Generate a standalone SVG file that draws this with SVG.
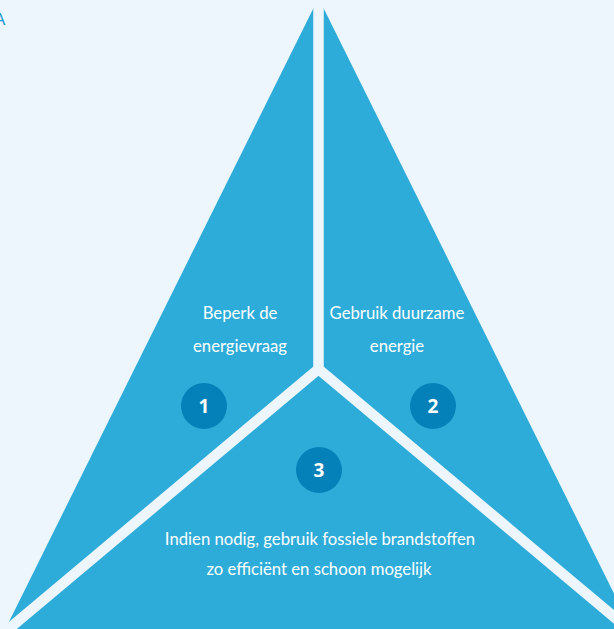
<svg xmlns="http://www.w3.org/2000/svg" width="614" height="629" viewBox="0 0 614 629">
<style>
.lbl{font-family:Lato,"Open Sans","Liberation Sans",sans-serif;font-size:16.7px;fill:#ffffff;text-anchor:middle}
.num{font-family:"Open Sans","Liberation Sans",sans-serif;font-size:19px;font-weight:bold;fill:#ffffff;text-anchor:middle}
.badge{fill:#0481b8}
.gap{stroke:#eef6fd;stroke-width:10.5;fill:none;stroke-linejoin:miter}
</style>
<rect width="614" height="629" fill="#eef6fd"/>
<text x="-6" y="25" font-family="Liberation Sans,sans-serif" font-size="17" fill="#1a9bd3">A</text>
<g id="triangle">
<polygon points="318.5,-2 -10,660 647,660" fill="#2eacd9"/>
</g>
<g id="connectors">
<path class="gap" d="M318.5,-12 V369"/>
<path class="gap" d="M-20,653 L318.5,369 L657,653"/>
</g>
<g id="node1">
<text class="lbl" x="240" y="319">Beperk de</text>
<text class="lbl" x="240" y="352">energievraag</text>
<circle class="badge" cx="204" cy="406" r="23"/>
<text class="num" x="204" y="413">1</text>
</g>
<g id="node2">
<text class="lbl" x="397" y="319">Gebruik duurzame</text>
<text class="lbl" x="397" y="352">energie</text>
<circle class="badge" cx="433" cy="406" r="23"/>
<text class="num" x="433" y="413">2</text>
</g>
<g id="node3">
<circle class="badge" cx="319" cy="470" r="23"/>
<text class="num" x="319" y="477">3</text>
<text class="lbl" x="320" y="545">Indien nodig, gebruik fossiele brandstoffen</text>
<text class="lbl" x="319" y="575">zo efficiënt en schoon mogelijk</text>
</g>
</svg>
